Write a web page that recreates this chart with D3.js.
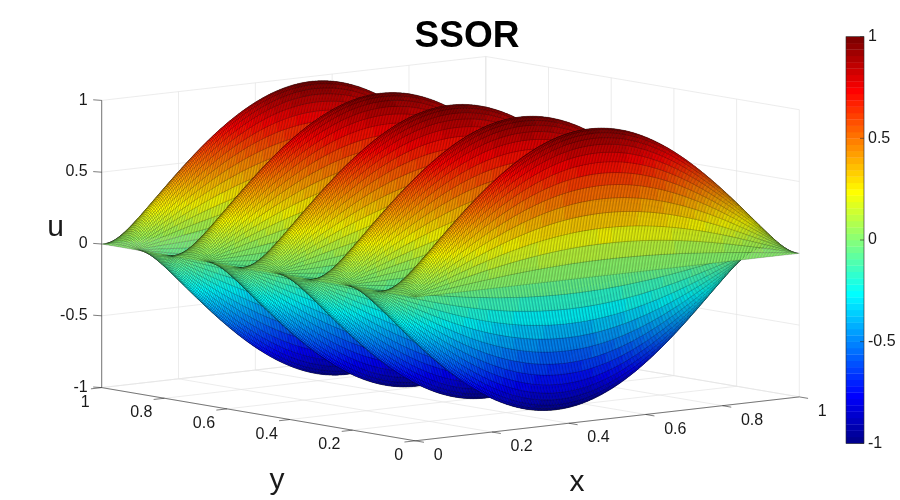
<!DOCTYPE html>
<html>
<head>
<meta charset="utf-8">
<script src="https://cdn.jsdelivr.net/npm/d3@7"></script>
<style>
html, body { margin: 0; padding: 0; background: #fff; }
#chart { position: relative; width: 900px; height: 500px; overflow: hidden; }
#chart svg, #chart canvas { position: absolute; left: 0; top: 0; }
text { font-family: "Liberation Sans", Arial, sans-serif; fill: #1a1a1a; }
</style>
</head>
<body>
<div id="chart"></div>
<script>
// axis ticks
const xTicks = [0, 0.2, 0.4, 0.6, 0.8, 1];
const yTicks = [0, 0.2, 0.4, 0.6, 0.8, 1];
const zTicks = [-1, -0.5, 0, 0.5, 1];
const cbarTicks = [-1, -0.5, 0, 0.5, 1];
const xLabels = ['0', '0.2', '0.4', '0.6', '0.8', '1'];
const yLabels = ['0', '0.2', '0.4', '0.6', '0.8', '1'];
const zLabels = ['-1', '-0.5', '0', '0.5', '1'];
const cbarLabels = ['-1', '-0.5', '0', '0.5', '1'];

// surface: u = sin(kx*pi*x) * sin(ky*pi*y) on an n x n grid
const modeX = 1;
const modeY = 9;
const gridN = 256;

const title = 'SSOR';

/* 投影: (0,0,-1) の位置と各軸の方向 */
const origin = [415.2, 440.8];
const ex = [384.1, -43.9];
const ey = [-313.5, -53.2];
const ez = [0, -287.2];

const sx = d3.scaleLinear().domain([0, 1]).range([0, 1]);
const sy = d3.scaleLinear().domain([0, 1]).range([0, 1]);
const sz = d3.scaleLinear().domain([-1, 1]).range([0, 1]);

const proj = (x, y, z) => {
	const a = sx(x), b = sy(y), c = sz(z);
	return [origin[0] + a * ex[0] + b * ey[0] + c * ez[0],
	        origin[1] + a * ex[1] + b * ey[1] + c * ez[1]];
};
const depth = (x, y, z) => 0.8162 * sx(x) + sy(y) - 0.31 * sz(z);

// jet(64) as in matlab
const jet = (m) => {
	const n = Math.ceil(m / 4);
	let u = [];
	for (let i = 1; i <= n; i++) u.push(i / n);
	for (let i = 1; i < n; i++) u.push(1);
	for (let i = n; i >= 1; i--) u.push(i / n);
	const gOff = Math.ceil(n / 2) - (m % 4 === 1 ? 1 : 0);
	let J = d3.range(m).map(() => [0, 0, 0]);
	for (let i = 0; i < u.length; i++) {
		const g = gOff + i, r = g + n, b = g - n;
		if (g < m) J[g][1] = u[i];
		if (r < m) J[r][0] = u[i];
		if (b >= 0 && b < m) J[b][2] = u[i];
	}
	return J.map(c => d3.rgb(c[0] * 255, c[1] * 255, c[2] * 255).formatHex());
};
const cmap = jet(64);
const colorIndex = d3.scaleQuantize().domain([-1, 1]).range(d3.range(64));
const colorOf = (v) => cmap[colorIndex(Math.max(-1, Math.min(1, v)))];

const chart = d3.select('#chart');
const back = chart.append('svg').attr('width', 900).attr('height', 500);
const canvas = chart.append('canvas').attr('width', 900).attr('height', 500);
const front = chart.append('svg').attr('width', 900).attr('height', 500);

//// grid lines on the back walls and the floor
const gridColor = '#e4e4e4';
const seg = (g, p, q, color, w) => {
	const a = proj(...p), b = proj(...q);
	g.append('line').attr('x1', a[0]).attr('y1', a[1]).attr('x2', b[0]).attr('y2', b[1])
		.attr('stroke', color).attr('stroke-width', w);
};
const grid = back.append('g');
for (let x of xTicks) {
	seg(grid, [x, 0, -1], [x, 1, -1], gridColor, 0.7);
	seg(grid, [x, 1, -1], [x, 1, 1], gridColor, 0.7);
}
for (let y of yTicks) {
	seg(grid, [0, y, -1], [1, y, -1], gridColor, 0.7);
	seg(grid, [1, y, -1], [1, y, 1], gridColor, 0.7);
}
for (let z of zTicks) {
	seg(grid, [0, 1, z], [1, 1, z], gridColor, 0.7);
	seg(grid, [1, 0, z], [1, 1, z], gridColor, 0.7);
}

//// surface
const xs = d3.range(gridN + 1).map(i => i / gridN);
const ys = d3.range(gridN + 1).map(j => j / gridN);
const U = xs.map(x => ys.map(y => Math.sin(modeX * Math.PI * x) * Math.sin(modeY * Math.PI * y)));
const P = xs.map((x, i) => ys.map((y, j) => proj(x, y, U[i][j])));

let faces = [];
for (let i = 0; i < gridN; i++) {
	for (let j = 0; j < gridN; j++) {
		const zc = (U[i][j] + U[i + 1][j] + U[i + 1][j + 1] + U[i][j + 1]) / 4;
		faces.push({i: i, j: j, d: depth((xs[i] + xs[i + 1]) / 2, (ys[j] + ys[j + 1]) / 2, zc)});
	}
}
faces.sort((a, b) => b.d - a.d);

const ctx = canvas.node().getContext('2d');
ctx.lineWidth = 0.5;
ctx.strokeStyle = 'rgba(0,0,0,0.32)';
ctx.lineJoin = 'round';
for (let f of faces) {
	const i = f.i, j = f.j;
	const p1 = P[i][j], p2 = P[i + 1][j], p3 = P[i + 1][j + 1], p4 = P[i][j + 1];
	ctx.beginPath();
	ctx.moveTo(p1[0], p1[1]);
	ctx.lineTo(p2[0], p2[1]);
	ctx.lineTo(p3[0], p3[1]);
	ctx.lineTo(p4[0], p4[1]);
	ctx.closePath();
	ctx.fillStyle = colorOf(U[i][j]);
	ctx.fill();
	ctx.stroke();
}

//// axes
const axisColor = '#262626';
const ax = front.append('g');
seg(ax, [0, 0, -1], [1, 0, -1], axisColor, 0.6);
seg(ax, [0, 0, -1], [0, 1, -1], axisColor, 0.6);
seg(ax, [0, 1, -1], [0, 1, 1], axisColor, 0.6);

const tickLen = 0.028;
const fontSize = 16;
for (let k = 0; k < xTicks.length; k++) {
	const p = proj(xTicks[k], 0, -1);
	const q = proj(xTicks[k], -tickLen, -1);
	ax.append('line').attr('x1', p[0]).attr('y1', p[1]).attr('x2', q[0]).attr('y2', q[1])
		.attr('stroke', axisColor).attr('stroke-width', 0.6);
	ax.append('text').attr('x', p[0] + 18.5).attr('y', p[1] + 15)
		.attr('dominant-baseline', 'middle').attr('text-anchor', 'start')
		.attr('font-size', fontSize).text(xLabels[k]);
}
for (let k = 0; k < yTicks.length; k++) {
	const p = proj(0, yTicks[k], -1);
	const q = proj(-tickLen, yTicks[k], -1);
	ax.append('line').attr('x1', p[0]).attr('y1', p[1]).attr('x2', q[0]).attr('y2', q[1])
		.attr('stroke', axisColor).attr('stroke-width', 0.6);
	ax.append('text').attr('x', p[0] - 12).attr('y', p[1] + 15)
		.attr('dominant-baseline', 'middle').attr('text-anchor', 'end')
		.attr('font-size', fontSize).text(yLabels[k]);
}
for (let k = 0; k < zTicks.length; k++) {
	const p = proj(0, 1, zTicks[k]);
	const q = [p[0] - 8.5, p[1] - 0.6];
	ax.append('line').attr('x1', p[0]).attr('y1', p[1]).attr('x2', q[0]).attr('y2', q[1])
		.attr('stroke', axisColor).attr('stroke-width', 0.6);
	ax.append('text').attr('x', p[0] - 14).attr('y', p[1])
		.attr('dominant-baseline', 'middle').attr('text-anchor', 'end')
		.attr('font-size', fontSize).text(zLabels[k]);
}

// axis titles
front.append('text').attr('x', 55.5).attr('y', 228).attr('text-anchor', 'middle')
	.attr('dominant-baseline', 'middle').attr('font-size', 30).text('u');
front.append('text').attr('x', 577).attr('y', 483).attr('text-anchor', 'middle')
	.attr('dominant-baseline', 'middle').attr('font-size', 30).text('x');
front.append('text').attr('x', 277).attr('y', 481).attr('text-anchor', 'middle')
	.attr('dominant-baseline', 'middle').attr('font-size', 30).text('y');

// title
front.append('text').attr('x', 467).attr('y', 47).attr('text-anchor', 'middle')
	.attr('font-size', 37).attr('font-weight', 'bold').style('fill', '#000').text(title);

//// colorbar
const cbX = 846, cbW = 18;
const cbY = d3.scaleLinear().domain([-1, 1]).range([443.3, 36.7]);
const cb = front.append('g');
const step = 2 / cmap.length;
cb.selectAll('rect.c').data(cmap).enter().append('rect')
	.attr('x', cbX).attr('width', cbW)
	.attr('y', (c, k) => cbY(-1 + (k + 1) * step))
	.attr('height', (c, k) => cbY(-1 + k * step) - cbY(-1 + (k + 1) * step) + 0.3)
	.attr('fill', c => c);
cb.append('rect').attr('x', cbX).attr('y', cbY(1)).attr('width', cbW)
	.attr('height', cbY(-1) - cbY(1)).attr('fill', 'none')
	.attr('stroke', axisColor).attr('stroke-width', 0.6);
for (let k = 0; k < cbarTicks.length; k++) {
	const yy = cbY(cbarTicks[k]);
	cb.append('line').attr('x1', cbX + cbW - 4).attr('x2', cbX + cbW).attr('y1', yy).attr('y2', yy)
		.attr('stroke', axisColor).attr('stroke-width', 0.6);
	cb.append('text').attr('x', cbX + cbW + 4).attr('y', yy)
		.attr('dominant-baseline', 'middle').attr('font-size', fontSize).text(cbarLabels[k]);
}
</script>
</body>
</html>
